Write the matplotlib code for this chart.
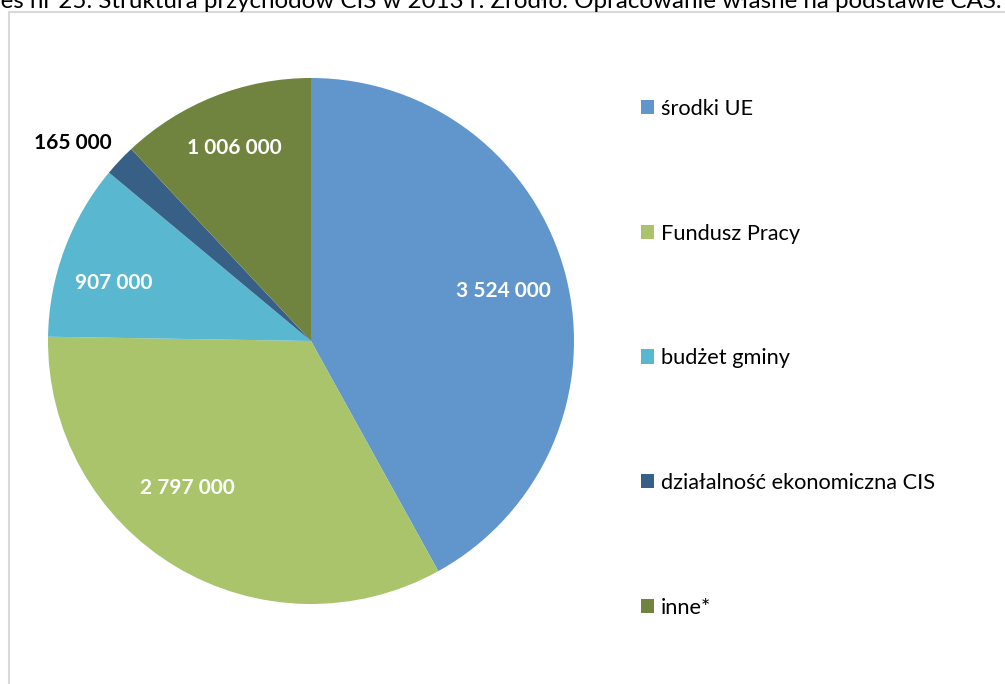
import numpy as np
import matplotlib.pyplot as plt
from matplotlib.patches import Rectangle

# data
categories = ['środki UE', 'Fundusz Pracy', 'budżet gminy',
              'działalność ekonomiczna CIS', 'inne*']
values = [3524000, 2797000, 907000, 165000, 1006000]
labels = ['3 524 000', '2 797 000', '907 000', '165 000', '1 006 000']
colors = ['#6096CB', '#A9C46B', '#59B8D0', '#386087', '#71843F']

plt.rcParams['font.family'] = ['Lato', 'DejaVu Sans']

W, H = 1005, 684
fig = plt.figure(figsize=(W / 100, H / 100), dpi=100)

# chart frame (grey border, cut at right/bottom)
fig.patches.append(Rectangle((8.5 / W, -0.05), 1.2, (H - 12) / H + 0.05,
                             transform=fig.transFigure, fill=False,
                             edgecolor='#D9D9D9', linewidth=1.5))

# clipped caption at the very top
fig.text(0.997, 1 - 8 / H,
         'Wykres nr 25. Struktura przychodów CIS w 2013 r. Źródło: Opracowanie własne na podstawie CAS.',
         ha='right', va='baseline', fontsize=17.4, color='black')

# pie axes
cx, cy, r = 311, 341, 263
ax = fig.add_axes([(cx - r) / W, (H - cy - r) / H, 2 * r / W, 2 * r / H])
wedges, _ = ax.pie(values, colors=colors, startangle=90, counterclock=False,
                   radius=1.0, wedgeprops=dict(linewidth=0))
ax.set_xlim(-1, 1)
ax.set_ylim(-1, 1)
ax.set_aspect('equal')
ax.axis('off')

# data labels
dist = [0.755, 0.73, 0.78, 1.18, 0.79]
nudge = [0, -9, 4, 3.6, 0]
for w, lab, d, n in zip(wedges, labels, dist, nudge):
    ang = np.deg2rad((w.theta1 + w.theta2) / 2 + n)
    col = 'black' if d > 1 else 'white'
    ax.text(d * np.cos(ang), d * np.sin(ang), lab, ha='center', va='center',
            fontsize=15, fontweight='bold', color=col, clip_on=False)

# legend
fig.legend(wedges, categories, loc='upper left',
           bbox_to_anchor=(630 / W, 1 - 88 / H), frameon=False,
           fontsize=15.7, handlelength=0.62, handleheight=0.62,
           handletextpad=0.3, labelspacing=4.8, borderpad=0)

fig.savefig('out.png', dpi=100)
